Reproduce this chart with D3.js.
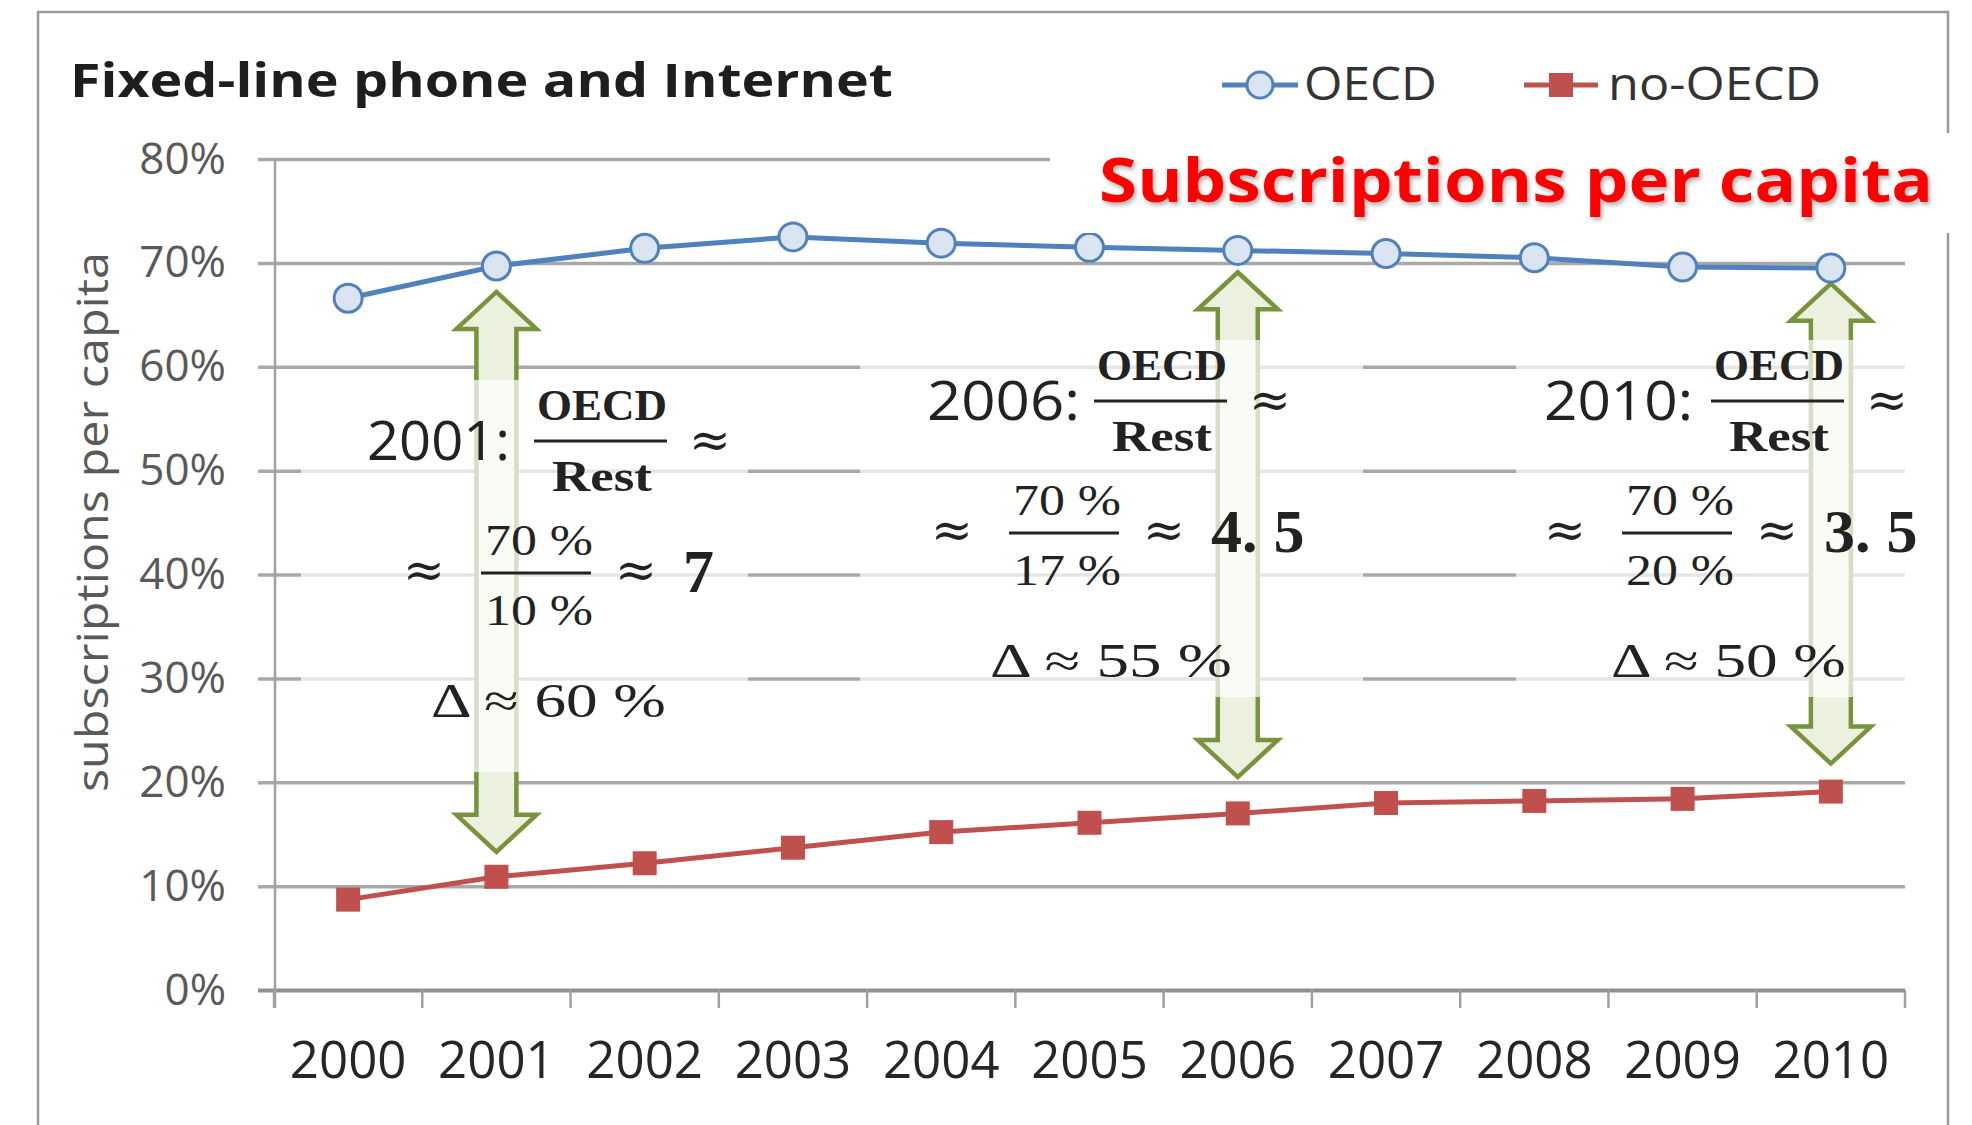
<!DOCTYPE html>
<html>
<head>
<meta charset="utf-8">
<script src="https://cdn.jsdelivr.net/npm/d3@7"></script>
<style>
  body { margin: 0; background: #fff; }
  svg { display: block; }
</style>
</head>
<body>
<script>
// chart values
var years = [2000, 2001, 2002, 2003, 2004, 2005, 2006, 2007, 2008, 2009, 2010];
var oecd = [66.6, 69.7, 71.4, 72.5, 71.9, 71.5, 71.2, 70.9, 70.5, 69.6, 69.5];
var noOecd = [8.7, 10.9, 12.2, 13.7, 15.2, 16.1, 17.0, 18.0, 18.2, 18.4, 19.1];
var yTicks = [0, 10, 20, 30, 40, 50, 60, 70, 80];

// annotations
var noteYears = [2001, 2006, 2010];
var noteTop = ["70 %", "70 %", "70 %"];
var noteBottom = ["10 %", "17 %", "20 %"];
var noteRatio = ["7", "4.5", "3.5"];
var noteDelta = ["60 %", "55 %", "50 %"];
var arrowTop = [67.2, 69.1, 68.0];
var arrowBottom = [13.3, 20.5, 21.8];

var W = 1972, H = 1125;
var sans = "'Open Sans', 'Noto Sans', sans-serif";
var serif = "'Liberation Serif', 'DejaVu Serif', serif";
var mathFont = "'DejaVu Serif', serif";

var svg = d3.select("body").append("svg")
    .attr("width", W)
    .attr("height", H);

svg.append("rect").attr("width", W).attr("height", H).attr("fill", "#fff");

var defs = svg.append("defs");
var shadow = defs.append("filter").attr("id", "shadow")
    .attr("x", "-5%").attr("y", "-20%").attr("width", "110%").attr("height", "140%");
shadow.append("feDropShadow")
    .attr("dx", 2).attr("dy", 3).attr("stdDeviation", 2)
    .attr("flood-color", "#777").attr("flood-opacity", 0.55);

// outer frame
svg.append("rect")
    .attr("x", 38).attr("y", 12)
    .attr("width", 1910).attr("height", 1200)
    .attr("fill", "none")
    .attr("stroke", "#9a9a9a")
    .attr("stroke-width", 2.5);

// scales
var x = d3.scaleBand().domain(years).range([274, 1905]).padding(0);
var y = d3.scaleLinear().domain([0, 80]).range([990, 159]);
var cx = function (d) { return x(d) + x.bandwidth() / 2; };

// title
svg.append("text")
    .attr("x", 70).attr("y", 97)
    .attr("font-family", sans).attr("font-weight", "bold")
    .attr("font-size", 46)
    .attr("fill", "#1e1e1e")
    .attr("textLength", 823).attr("lengthAdjust", "spacingAndGlyphs")
    .text("Fixed-line phone and Internet");

// legend
var leg = svg.append("g");
leg.append("line").attr("x1", 1222).attr("x2", 1298).attr("y1", 85).attr("y2", 85)
    .attr("stroke", "#4f81bd").attr("stroke-width", 5);
leg.append("circle").attr("cx", 1260).attr("cy", 85).attr("r", 13)
    .attr("fill", "#dbe5f1").attr("stroke", "#4f81bd").attr("stroke-width", 3);
leg.append("text").attr("x", 1304).attr("y", 100)
    .attr("font-family", sans).attr("font-size", 45).attr("fill", "#333")
    .attr("textLength", 133).attr("lengthAdjust", "spacingAndGlyphs")
    .text("OECD");
leg.append("line").attr("x1", 1524).attr("x2", 1598).attr("y1", 85).attr("y2", 85)
    .attr("stroke", "#c0504d").attr("stroke-width", 5);
leg.append("rect").attr("x", 1561 - 12).attr("y", 85 - 12).attr("width", 24).attr("height", 24)
    .attr("fill", "#c0504d");
leg.append("text").attr("x", 1608).attr("y", 100)
    .attr("font-family", sans).attr("font-size", 45).attr("fill", "#333")
    .attr("textLength", 213).attr("lengthAdjust", "spacingAndGlyphs")
    .text("no-OECD");

// gridlines + y labels
var gy = svg.append("g")
    .attr("transform", "translate(258,0)")
    .call(d3.axisLeft(y).tickValues(yTicks)
        .tickSize(-(1905 - 258)).tickPadding(32)
        .tickFormat(function (d) { return d + "%"; }));
gy.select(".domain").remove();
gy.selectAll(".tick line")
    .attr("stroke", function (d) { return d === 0 ? "#8f8f8f" : "#a8a8a8"; })
    .attr("stroke-width", function (d) { return d === 0 ? 4 : 3.5; });
gy.selectAll(".tick text")
    .attr("font-family", sans).attr("font-size", 44)
    .attr("fill", "#595959");

// y axis line
svg.append("line")
    .attr("x1", 275).attr("x2", 275)
    .attr("y1", y(80)).attr("y2", y(0) + 18)
    .attr("stroke", "#a0a0a0").attr("stroke-width", 2.5);

// x axis ticks at category boundaries
var bounds = years.map(function (d) { return x(d); }).concat([x.range()[1]]);
svg.append("g").selectAll("line")
    .data(bounds)
    .join("line")
    .attr("x1", function (d) { return d; }).attr("x2", function (d) { return d; })
    .attr("y1", y(0)).attr("y2", y(0) + 18)
    .attr("stroke", "#a0a0a0").attr("stroke-width", 2.5);

var gx = svg.append("g")
    .attr("transform", "translate(0," + y(0) + ")")
    .call(d3.axisBottom(x).tickSize(0).tickPadding(52));
gx.select(".domain").remove();
gx.selectAll(".tick text")
    .attr("font-family", sans).attr("font-size", 51)
    .attr("fill", "#262626");

// y axis title
svg.append("text")
    .attr("transform", "translate(108,522) rotate(-90)")
    .attr("text-anchor", "middle")
    .attr("font-family", sans).attr("font-size", 44)
    .attr("fill", "#595959")
    .attr("textLength", 540).attr("lengthAdjust", "spacingAndGlyphs")
    .text("subscriptions per capita");

// green double arrows
var shaftW = 40, headW = 80, headL = 37;
var arrowPath = function (xc, y0, y1) {
  var s = shaftW / 2, h = headW / 2;
  return "M" + xc + "," + y0 +
    "L" + (xc + h) + "," + (y0 + headL) +
    "L" + (xc + s) + "," + (y0 + headL) +
    "L" + (xc + s) + "," + (y1 - headL) +
    "L" + (xc + h) + "," + (y1 - headL) +
    "L" + xc + "," + y1 +
    "L" + (xc - h) + "," + (y1 - headL) +
    "L" + (xc - s) + "," + (y1 - headL) +
    "L" + (xc - s) + "," + (y0 + headL) +
    "L" + (xc - h) + "," + (y0 + headL) + "Z";
};
svg.append("g").selectAll("path")
    .data(noteYears)
    .join("path")
    .attr("d", function (d, i) { return arrowPath(cx(d), y(arrowTop[i]), y(arrowBottom[i])); })
    .attr("fill", "#ebf1de")
    .attr("stroke", "#77933c")
    .attr("stroke-width", 4.5)
    .attr("stroke-linejoin", "miter");

// text boxes (semi-transparent white) and their layout
var boxes = [
  {x0: 301, x1: 748, y0: 380, y1: 772, L: 367, R2: 403, D: 431, B: 460, lw: 143, dw: 235},
  {x0: 860, x1: 1363, y0: 340, y1: 697, L: 927, R2: 931, D: 990, B: 420, lw: 153, dw: 242},
  {x0: 1516, x1: 1940, y0: 340, y1: 697, L: 1544, R2: 1544, D: 1611, B: 420, lw: 149, dw: 235}
];

svg.append("g").selectAll("rect")
    .data(boxes)
    .join("rect")
    .attr("x", function (b) { return b.x0; })
    .attr("y", function (b) { return b.y0; })
    .attr("width", function (b) { return b.x1 - b.x0; })
    .attr("height", function (b) { return b.y1 - b.y0; })
    .attr("fill", "#fff").attr("fill-opacity", 0.7);

var ink = "#222";
noteYears.forEach(function (yr, i) {
  var b = boxes[i];
  var g = svg.append("g").attr("fill", ink);

  // row 1: "2001: OECD/Rest ≈"
  g.append("text").attr("x", b.L).attr("y", b.B)
      .attr("font-family", sans).attr("font-size", 54)
      .attr("textLength", b.lw).attr("lengthAdjust", "spacingAndGlyphs")
      .text(yr + ":");
  g.append("text").attr("x", b.L + 235).attr("y", b.B - 40)
      .attr("text-anchor", "middle")
      .attr("font-family", serif).attr("font-weight", "bold").attr("font-size", 44)
      .attr("textLength", 130).attr("lengthAdjust", "spacingAndGlyphs")
      .text("OECD");
  g.append("line").attr("x1", b.L + 167).attr("x2", b.L + 300)
      .attr("y1", b.B - 19).attr("y2", b.B - 19)
      .attr("stroke", ink).attr("stroke-width", 3);
  g.append("text").attr("x", b.L + 235).attr("y", b.B + 31)
      .attr("text-anchor", "middle")
      .attr("font-family", serif).attr("font-weight", "bold").attr("font-size", 44)
      .attr("textLength", 100).attr("lengthAdjust", "spacingAndGlyphs")
      .text("Rest");
  g.append("text").attr("x", b.L + 322).attr("y", b.B - 3)
      .attr("font-family", mathFont).attr("font-size", 50)
      .text("\u2248");

  // row 2: "≈ 70%/10% ≈ 7"
  g.append("text").attr("x", b.R2).attr("y", b.B + 127)
      .attr("font-family", mathFont).attr("font-size", 50)
      .text("\u2248");
  g.append("text").attr("x", b.R2 + 136).attr("y", b.B + 95)
      .attr("text-anchor", "middle")
      .attr("font-family", serif).attr("font-size", 44)
      .attr("textLength", 108).attr("lengthAdjust", "spacingAndGlyphs")
      .text(noteTop[i]);
  g.append("line").attr("x1", b.R2 + 78).attr("x2", b.R2 + 188)
      .attr("y1", b.B + 113).attr("y2", b.B + 113)
      .attr("stroke", ink).attr("stroke-width", 3);
  g.append("text").attr("x", b.R2 + 136).attr("y", b.B + 165)
      .attr("text-anchor", "middle")
      .attr("font-family", serif).attr("font-size", 44)
      .attr("textLength", 108).attr("lengthAdjust", "spacingAndGlyphs")
      .text(noteBottom[i]);
  g.append("text").attr("x", b.R2 + 212).attr("y", b.B + 127)
      .attr("font-family", mathFont).attr("font-size", 50)
      .text("\u2248");
  var r = g.append("text").attr("x", b.R2 + 280).attr("y", b.B + 132)
      .attr("font-family", serif).attr("font-weight", "bold").attr("font-size", 62);
  var parts = noteRatio[i].split(".");
  if (parts.length > 1) {
    r.append("tspan").text(parts[0] + ".");
    r.append("tspan").attr("dx", 16).text(parts[1]);
  } else {
    r.text(noteRatio[i]);
  }

  // row 3: "Δ ≈ 60 %"
  g.append("text").attr("x", b.D).attr("y", b.B + 257)
      .attr("font-family", serif).attr("font-size", 48)
      .attr("textLength", b.dw).attr("lengthAdjust", "spacingAndGlyphs")
      .text("\u0394 \u2248 " + noteDelta[i]);
});

// series
var line = d3.line()
    .x(function (d) { return cx(d[0]); })
    .y(function (d) { return y(d[1]); });

var redPts = years.map(function (d, i) { return [d, noOecd[i]]; });
var bluePts = years.map(function (d, i) { return [d, oecd[i]]; });

svg.append("path").datum(redPts)
    .attr("d", line).attr("fill", "none")
    .attr("stroke", "#c0504d").attr("stroke-width", 5);
svg.append("g").selectAll("rect")
    .data(redPts)
    .join("rect")
    .attr("x", function (d) { return cx(d[0]) - 12; })
    .attr("y", function (d) { return y(d[1]) - 12; })
    .attr("width", 24).attr("height", 24)
    .attr("fill", "#c0504d");

svg.append("path").datum(bluePts)
    .attr("d", line).attr("fill", "none")
    .attr("stroke", "#4f81bd").attr("stroke-width", 5);
svg.append("g").selectAll("circle")
    .data(bluePts)
    .join("circle")
    .attr("cx", function (d) { return cx(d[0]); })
    .attr("cy", function (d) { return y(d[1]); })
    .attr("r", 14)
    .attr("fill", "#dbe5f1").attr("stroke", "#4f81bd").attr("stroke-width", 3);

// red headline with white backing
svg.append("rect")
    .attr("x", 1050).attr("y", 133)
    .attr("width", 912).attr("height", 100)
    .attr("fill", "#fff");
svg.append("text")
    .attr("x", 1099).attr("y", 202)
    .attr("font-family", sans).attr("font-weight", "bold")
    .attr("font-size", 60)
    .attr("fill", "#ff0000")
    .attr("filter", "url(#shadow)")
    .attr("textLength", 834).attr("lengthAdjust", "spacingAndGlyphs")
    .text("Subscriptions per capita");
</script>
</body>
</html>
